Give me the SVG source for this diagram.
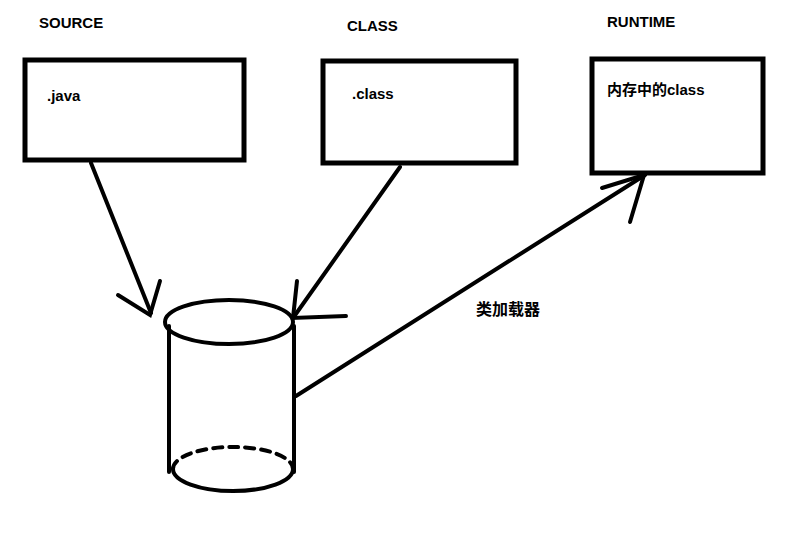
<svg xmlns="http://www.w3.org/2000/svg" width="800" height="533" viewBox="0 0 800 533">
<style>
.box{fill:#fff;stroke:#000;stroke-width:5}
.ln{fill:none;stroke:#000;stroke-width:4;stroke-linecap:round}
.t{font-family:"Liberation Sans","Noto Sans CJK SC",sans-serif;font-weight:bold;font-size:15px;fill:#000}
</style>
<rect width="800" height="533" fill="#fff"/>
<text class="t" x="39" y="28">SOURCE</text>
<text class="t" x="347" y="31">CLASS</text>
<text class="t" x="607" y="27">RUNTIME</text>
<g id="source"><rect class="box" x="25" y="60" width="219" height="100"/><text class="t" x="47" y="101">.java</text></g>
<g id="class"><rect class="box" x="323" y="61" width="193" height="102"/><text class="t" x="352" y="99">.class</text></g>
<g id="runtime"><rect class="box" x="592" y="59" width="171" height="114"/><text class="t" x="607" y="95">内存中的class</text></g>
<g id="cylinder">
<ellipse class="ln" cx="229" cy="322" rx="64" ry="22"/>
<line class="ln" x1="169" y1="326" x2="169" y2="472"/>
<line class="ln" x1="294" y1="326" x2="294" y2="472"/>
<path class="ln" d="M173 469 A60 22 0 0 0 293 469"/>
<path class="ln" d="M173 469 A60 22 0 0 1 293 469" stroke-dasharray="9 7"/>
</g>
<g id="connectors">
<line class="ln" x1="91" y1="163" x2="151" y2="313"/>
<polyline class="ln" points="118,295 150,315 160,281"/>
<line class="ln" x1="400" y1="167" x2="293" y2="318"/>
<polyline class="ln" points="297,281 293,318 346,316"/>
<line class="ln" x1="296" y1="396" x2="645" y2="175"/>
<polyline class="ln" points="602,188 644,175 630,222"/>
</g>
<text id="label" x="476" y="315" style="font-family:'Noto Sans CJK SC',sans-serif;font-weight:bold;font-size:16px">类加载器</text>
</svg>
